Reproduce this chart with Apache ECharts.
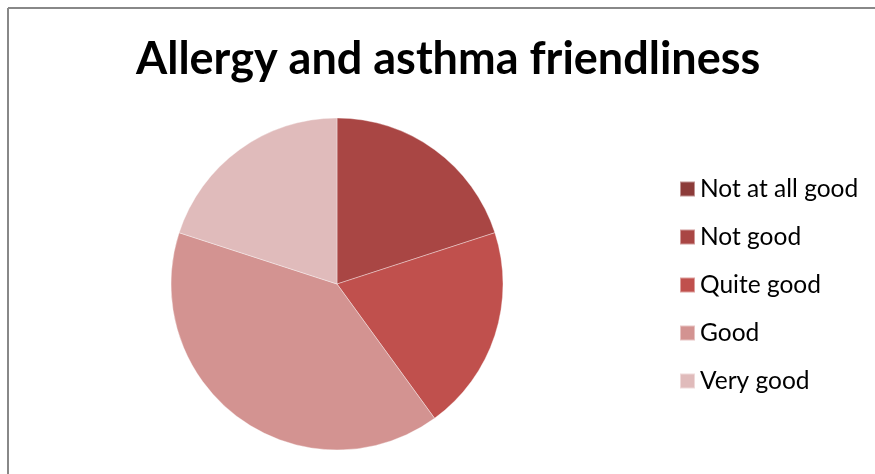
<!DOCTYPE html>
<html>
<head>
<meta charset="utf-8">
<script src="https://cdn.jsdelivr.net/npm/echarts@6/dist/echarts.min.js"></script>
<style>html,body{margin:0;padding:0;background:#fff;}#c{width:875px;height:474px;}</style>
</head>
<body>
<div id="c"></div>
<script>
const categories = ["Not at all good", "Not good", "Quite good", "Good", "Very good"];
const values = [0, 20, 20, 40, 20];
const colors = ["#8C3B39", "#A94644", "#C0504D", "#D39391", "#E0BBBB"];
const titleText = "Allergy and asthma friendliness";

const chart = echarts.init(document.getElementById('c'), null, {renderer: 'canvas'});
chart.setOption({
  animation: false,
  backgroundColor: '#fff',
  color: colors,
  title: {
    text: titleText,
    left: 136,
    top: 37,
    padding: 0,
    textStyle: {fontFamily: 'Lato', fontWeight: 'bold', fontSize: 45, color: '#000'}
  },
  legend: {
    orient: 'vertical',
    left: 679,
    top: 175,
    padding: 0,
    icon: 'rect',
    itemWidth: 15,
    itemHeight: 15,
    itemGap: 20,
    data: categories,
    selectedMode: false,
    textStyle: {fontFamily: 'Lato', fontSize: 24.5, color: '#000', lineHeight: 28}
  },
  graphic: [
    {type: 'line', shape: {x1: 8, y1: 8, x2: 875, y2: 8}, style: {stroke: '#888', lineWidth: 2}},
    {type: 'line', shape: {x1: 8, y1: 8, x2: 8, y2: 474}, style: {stroke: '#888', lineWidth: 2}}
  ],
  series: [{
    type: 'pie',
    center: [337, 284],
    radius: 166,
    startAngle: 90,
    clockwise: true,
    label: {show: false},
    labelLine: {show: false},
    emphasis: {disabled: true},
    itemStyle: {borderColor: 'rgba(255,255,255,0.45)', borderWidth: 0.8},
    data: categories.map((c, i) => ({name: c, value: values[i]}))
  }]
});
</script>
</body>
</html>
